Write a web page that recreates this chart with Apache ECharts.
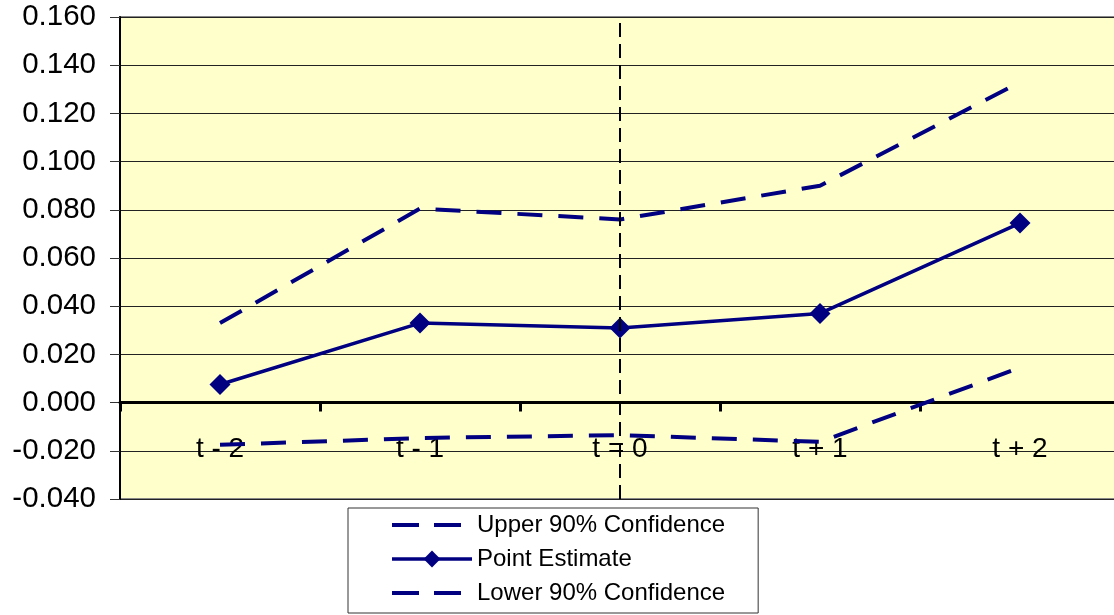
<!DOCTYPE html>
<html>
<head>
<meta charset="utf-8">
<script src="https://cdn.jsdelivr.net/npm/echarts@6/dist/echarts.min.js"></script>
<style>
  html, body { margin: 0; padding: 0; background: #ffffff; overflow: hidden; width: 1114px; height: 615px; }
  /* plot area runs slightly past the right edge of the page */
  #chart { width: 1122px; height: 615px; }
</style>
</head>
<body>
<div id="chart"></div>
<script>
// Event-window estimates with 90% confidence bounds
const categories = ['t - 2', 't - 1', 't = 0', 't + 1', 't + 2'];
const upper90 = [0.033, 0.0805, 0.076, 0.090, 0.133];
const pointEstimate = [0.0075, 0.033, 0.031, 0.037, 0.0745];
const lower90 = [-0.0175, -0.0147, -0.0135, -0.0163, 0.0145];
const yTicks = { min: -0.04, max: 0.16, step: 0.02 };

const navy = '#000080';
const font = 'Liberation Sans, Arial, sans-serif';

// plot box geometry
const gridTop = 17, gridHeight = 482, gridLeft = 120, gridWidth = 1000;
// pixel distance from the bottom edge up to the zero line, so the category axis sits on y = 0
const zeroOffset = gridHeight * (0 - yTicks.min) / (yTicks.max - yTicks.min);

const dashed = [25, 16];

const chart = echarts.init(document.getElementById('chart'), null, { renderer: 'canvas' });

chart.setOption({
  animation: false,
  backgroundColor: '#ffffff',
  grid: {
    left: gridLeft, top: gridTop, width: gridWidth, height: gridHeight,
    show: true,
    backgroundColor: '#FFFFCC',
    borderColor: '#888888',
    borderWidth: 2
  },
  xAxis: {
    type: 'category',
    data: categories,
    boundaryGap: true,
    position: 'bottom',
    offset: -zeroOffset,
    axisLine: { onZero: false, lineStyle: { color: '#000', width: 3 } },
    axisTick: { show: true, length: 9, lineStyle: { color: '#000', width: 3 } },
    axisLabel: { color: '#000', fontFamily: font, fontSize: 28, margin: 33 },
    splitLine: { show: false },
    z: 1
  },
  yAxis: {
    type: 'value',
    min: yTicks.min,
    max: yTicks.max,
    interval: yTicks.step,
    axisLine: { show: true, onZero: false, lineStyle: { color: '#000', width: 2 } },
    axisTick: { show: true, length: 10, lineStyle: { color: '#333', width: 1 } },
    axisLabel: {
      color: '#000', fontFamily: font, fontSize: 29.5, margin: 24,
      formatter: v => v.toFixed(3)
    },
    splitLine: { show: true, lineStyle: { color: '#222', width: 1 } }
  },
  legend: {
    orient: 'vertical',
    left: 348,
    top: 508,
    backgroundColor: '#ffffff',
    borderColor: '#333',
    borderWidth: 1,
    borderRadius: 0,
    padding: [5, 33, 8, 42],
    itemWidth: 80,
    itemHeight: 21,
    itemGap: 10,
    textStyle: { color: '#000', fontFamily: font, fontSize: 24, lineHeight: 24 },
    data: [
      { name: 'Upper 90% Confidence', itemStyle: { opacity: 0 }, lineStyle: { width: 4, type: [27, 15] } },
      { name: 'Point Estimate', lineStyle: { width: 3.5 } },
      { name: 'Lower 90% Confidence', itemStyle: { opacity: 0 }, lineStyle: { width: 4, type: [27, 15] } }
    ]
  },
  series: [
    {
      name: 'Upper 90% Confidence',
      type: 'line',
      data: upper90,
      symbol: 'none',
      color: navy,
      lineStyle: { color: navy, width: 4, type: dashed },
      z: 3,
      markLine: {
        silent: true,
        symbol: 'none',
        label: { show: false },
        lineStyle: { color: '#000', width: 2, type: [14, 7] },
        data: [{ xAxis: 't = 0' }]
      }
    },
    {
      name: 'Point Estimate',
      type: 'line',
      data: pointEstimate,
      symbol: 'diamond',
      symbolSize: 21,
      showAllSymbol: true,
      color: navy,
      itemStyle: { color: navy },
      lineStyle: { color: navy, width: 3.5 },
      z: 4
    },
    {
      name: 'Lower 90% Confidence',
      type: 'line',
      data: lower90,
      symbol: 'none',
      color: navy,
      lineStyle: { color: navy, width: 4, type: dashed },
      z: 3
    }
  ]
});
</script>
</body>
</html>
